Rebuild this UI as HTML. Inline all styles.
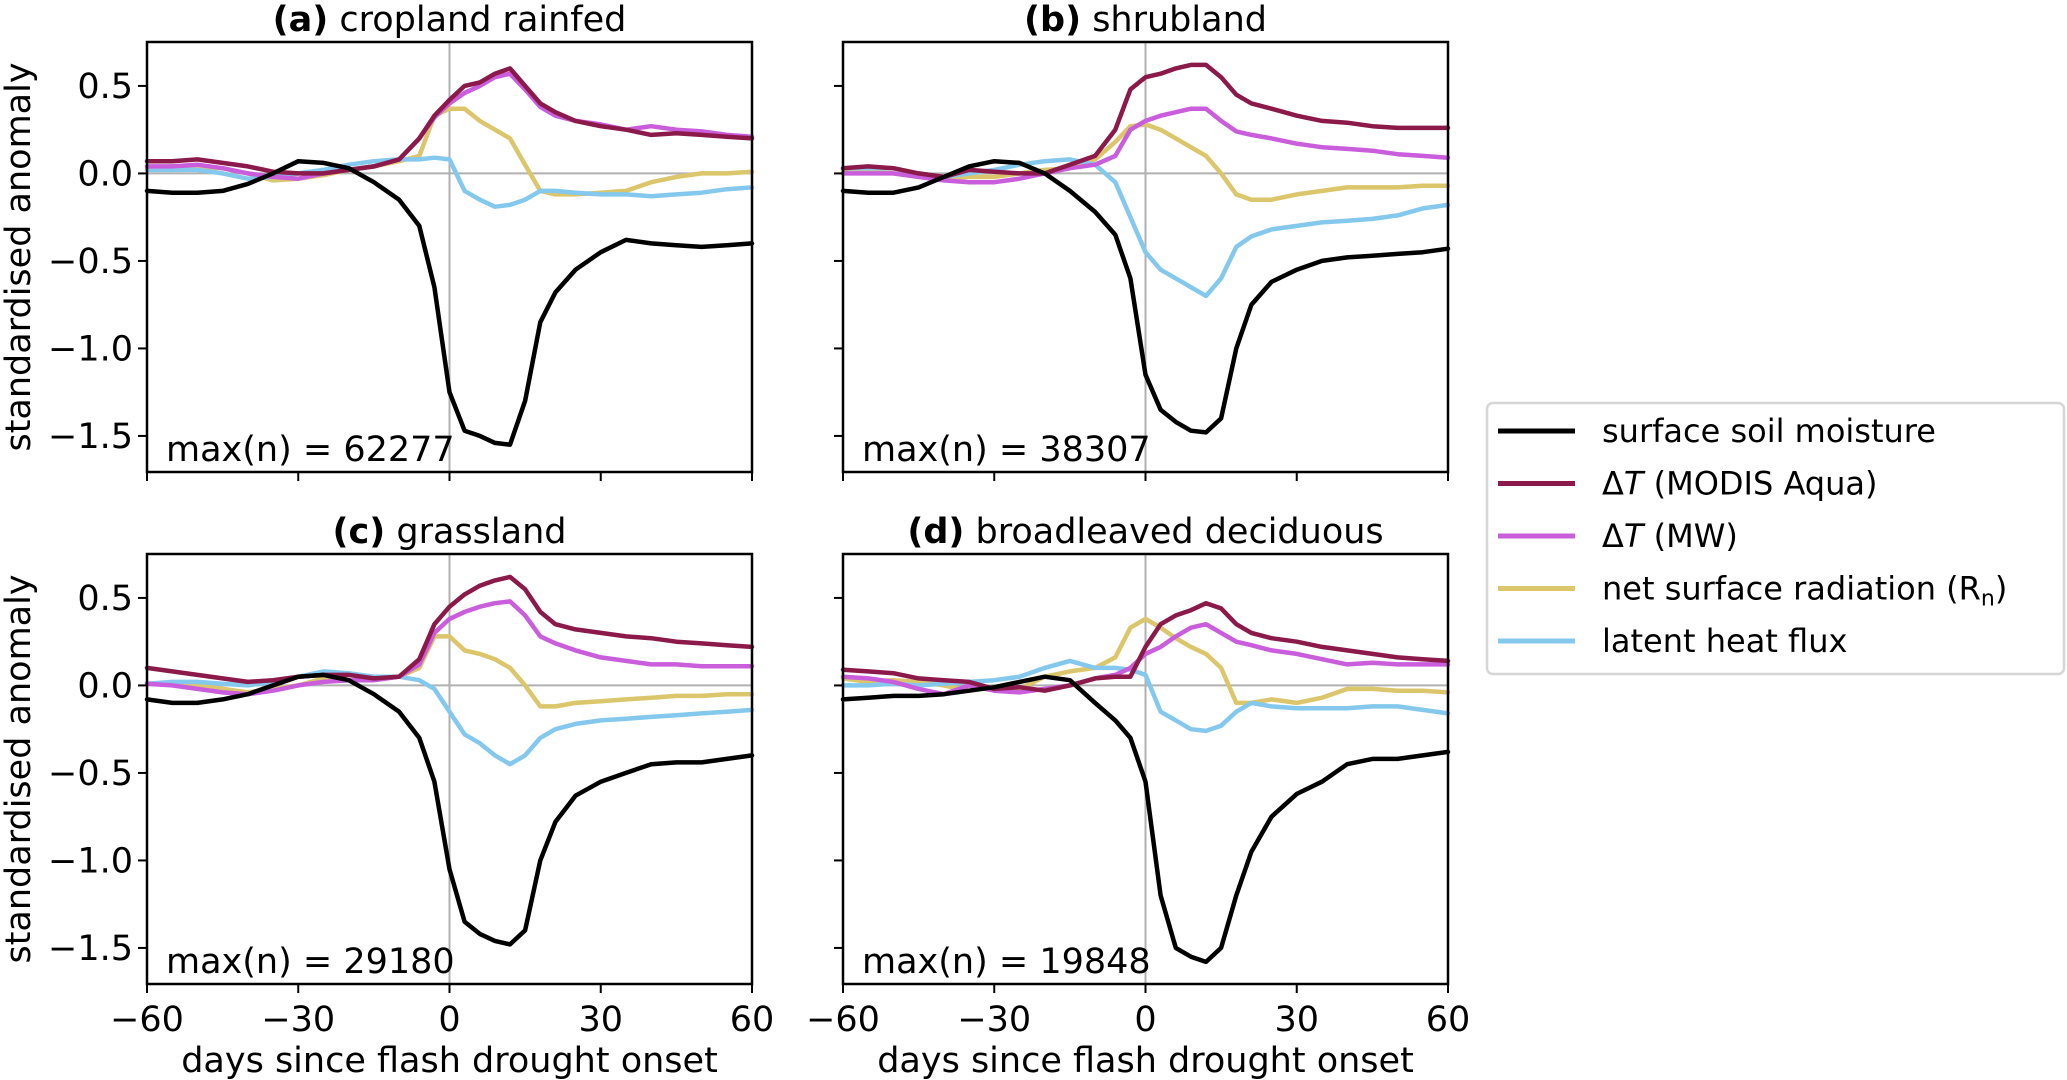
<!DOCTYPE html>
<html><head><meta charset="utf-8">
<style>
html,body{margin:0;padding:0;background:#fff;}
svg{display:block;font-family:"DejaVu Sans","Liberation Sans",sans-serif;}
</style></head>
<body>
<svg id="fig" width="2067" height="1080" viewBox="0 0 2067 1080" xmlns="http://www.w3.org/2000/svg">
<rect x="0" y="0" width="2067" height="1080" fill="#fff"/>
<g>
 <rect x="1487" y="403" width="577" height="271" rx="6" fill="#fff" stroke="#d6d6d6" stroke-width="2.5"/>
 <g><line x1="1498" x2="1575" y1="431" y2="431" stroke="#000" stroke-width="5"/><text x="1602" y="442" font-size="32">surface soil moisture</text></g>
 <g><line x1="1498" x2="1575" y1="483.5" y2="483.5" stroke="#8b1a4b" stroke-width="5"/><text x="1602" y="494.5" font-size="32">Δ<tspan font-style="italic">T</tspan> (MODIS Aqua)</text></g>
 <g><line x1="1498" x2="1575" y1="536" y2="536" stroke="#c95ddb" stroke-width="5"/><text x="1602" y="547" font-size="32">Δ<tspan font-style="italic">T</tspan> (MW)</text></g>
 <g><line x1="1498" x2="1575" y1="588.5" y2="588.5" stroke="#dcc66c" stroke-width="5"/><text x="1602" y="599.5" font-size="32">net surface radiation (R<tspan font-size="22" dy="6">n</tspan><tspan dy="-6">)</tspan></text></g>
 <g><line x1="1498" x2="1575" y1="641" y2="641" stroke="#84c9ed" stroke-width="5"/><text x="1602" y="652" font-size="32">latent heat flux</text></g>
</g>
</svg>
<script>
const days = [-60,-55,-50,-45,-40,-35,-30,-25,-20,-15,-10,-6,-3,0,3,6,9,12,15,18,21,25,30,35,40,45,50,55,60];
const xTicks = [-60,-30,0,30,60];
const xTickLabels = ['\u221260','\u221230','0','30','60'];
const yTicks = [0.5,0,-0.5,-1.0,-1.5];
const yTickLabels = ['0.5','0.0','\u22120.5','\u22121.0','\u22121.5'];
const panelTitles = [['(a)','cropland rainfed'],['(b)','shrubland'],['(c)','grassland'],['(d)','broadleaved deciduous']];
const maxN = ['62277','38307','29180','19848'];

const smA = [-0.1,-0.11,-0.11,-0.1,-0.06,0.0,0.07,0.06,0.03,-0.05,-0.15,-0.3,-0.65,-1.25,-1.47,-1.5,-1.54,-1.55,-1.3,-0.85,-0.68,-0.55,-0.45,-0.38,-0.4,-0.41,-0.42,-0.41,-0.4];
const modisA = [0.07,0.07,0.08,0.06,0.04,0.01,0.0,0.0,0.02,0.04,0.08,0.2,0.33,0.42,0.5,0.52,0.57,0.6,0.5,0.4,0.35,0.3,0.27,0.25,0.22,0.23,0.22,0.21,0.2];
const mwA = [0.04,0.04,0.05,0.03,0.0,-0.02,-0.03,0.0,0.02,0.04,0.08,0.2,0.32,0.4,0.46,0.5,0.55,0.57,0.48,0.38,0.33,0.3,0.28,0.25,0.27,0.25,0.24,0.22,0.21];
const rnA = [0.03,0.04,0.04,0.03,0.0,-0.04,-0.03,-0.01,0.02,0.04,0.07,0.1,0.33,0.37,0.37,0.3,0.25,0.2,0.05,-0.1,-0.12,-0.12,-0.11,-0.1,-0.05,-0.02,0.0,0.0,0.01];
const lhA = [0.02,0.02,0.02,0.0,-0.03,-0.02,0.0,0.02,0.05,0.07,0.08,0.08,0.09,0.08,-0.1,-0.15,-0.19,-0.18,-0.15,-0.1,-0.1,-0.11,-0.12,-0.12,-0.13,-0.12,-0.11,-0.09,-0.08];

const smB = [-0.1,-0.11,-0.11,-0.08,-0.02,0.04,0.07,0.06,0.0,-0.1,-0.22,-0.35,-0.6,-1.15,-1.35,-1.42,-1.47,-1.48,-1.4,-1.0,-0.75,-0.62,-0.55,-0.5,-0.48,-0.47,-0.46,-0.45,-0.43];
const modisB = [0.03,0.04,0.03,0.0,-0.02,0.02,0.01,0.0,0.0,0.05,0.1,0.25,0.48,0.55,0.57,0.6,0.62,0.62,0.55,0.45,0.4,0.37,0.33,0.3,0.29,0.27,0.26,0.26,0.26];
const mwB = [0.0,0.0,0.0,-0.02,-0.04,-0.05,-0.05,-0.03,0.0,0.03,0.05,0.1,0.25,0.3,0.33,0.35,0.37,0.37,0.3,0.24,0.22,0.2,0.17,0.15,0.14,0.13,0.11,0.1,0.09];
const rnB = [0.02,0.01,0.0,-0.02,-0.03,-0.02,-0.02,0.0,0.02,0.03,0.08,0.18,0.27,0.28,0.25,0.2,0.15,0.1,0.0,-0.12,-0.15,-0.15,-0.12,-0.1,-0.08,-0.08,-0.08,-0.07,-0.07];
const lhB = [0.03,0.03,0.03,0.0,-0.02,0.0,0.02,0.05,0.07,0.08,0.05,-0.05,-0.25,-0.45,-0.55,-0.6,-0.65,-0.7,-0.6,-0.42,-0.36,-0.32,-0.3,-0.28,-0.27,-0.26,-0.24,-0.2,-0.18];

const smC = [-0.08,-0.1,-0.1,-0.08,-0.05,0.0,0.05,0.06,0.03,-0.05,-0.15,-0.3,-0.55,-1.05,-1.35,-1.42,-1.46,-1.48,-1.4,-1.0,-0.78,-0.63,-0.55,-0.5,-0.45,-0.44,-0.44,-0.42,-0.4];
const modisC = [0.1,0.08,0.06,0.04,0.02,0.03,0.05,0.06,0.06,0.04,0.05,0.15,0.35,0.45,0.52,0.57,0.6,0.62,0.55,0.42,0.35,0.32,0.3,0.28,0.27,0.25,0.24,0.23,0.22];
const mwC = [0.01,0.0,-0.02,-0.04,-0.05,-0.03,0.0,0.02,0.03,0.03,0.05,0.12,0.3,0.38,0.42,0.45,0.47,0.48,0.4,0.28,0.24,0.2,0.16,0.14,0.12,0.12,0.11,0.11,0.11];
const rnC = [0.01,0.01,0.0,-0.02,-0.04,-0.02,0.0,0.04,0.06,0.05,0.05,0.1,0.28,0.28,0.2,0.18,0.15,0.1,0.0,-0.12,-0.12,-0.1,-0.09,-0.08,-0.07,-0.06,-0.06,-0.05,-0.05];
const lhC = [0.01,0.02,0.02,0.01,0.0,0.02,0.05,0.08,0.07,0.05,0.05,0.03,-0.02,-0.15,-0.28,-0.33,-0.4,-0.45,-0.4,-0.3,-0.25,-0.22,-0.2,-0.19,-0.18,-0.17,-0.16,-0.15,-0.14];

const smD = [-0.08,-0.07,-0.06,-0.06,-0.05,-0.03,-0.01,0.02,0.05,0.03,-0.1,-0.2,-0.3,-0.55,-1.2,-1.5,-1.55,-1.58,-1.5,-1.2,-0.95,-0.75,-0.62,-0.55,-0.45,-0.42,-0.42,-0.4,-0.38];
const modisD = [0.09,0.08,0.07,0.04,0.03,0.02,-0.02,-0.01,-0.03,0.0,0.04,0.05,0.05,0.22,0.35,0.4,0.43,0.47,0.44,0.35,0.3,0.27,0.25,0.22,0.2,0.18,0.16,0.15,0.14];
const mwD = [0.05,0.04,0.02,-0.02,-0.05,0.0,-0.03,-0.04,-0.02,0.0,0.04,0.06,0.1,0.18,0.22,0.28,0.33,0.35,0.3,0.25,0.23,0.2,0.18,0.15,0.12,0.13,0.12,0.12,0.12];
const rnD = [0.04,0.02,0.03,0.02,0.0,-0.03,-0.01,-0.02,0.05,0.08,0.1,0.16,0.33,0.38,0.33,0.27,0.22,0.18,0.1,-0.1,-0.1,-0.08,-0.1,-0.07,-0.02,-0.02,-0.03,-0.03,-0.04];
const lhD = [0.0,0.0,0.01,0.0,0.01,0.02,0.03,0.05,0.1,0.14,0.1,0.1,0.09,0.06,-0.15,-0.2,-0.25,-0.26,-0.23,-0.15,-0.1,-0.12,-0.13,-0.13,-0.13,-0.12,-0.12,-0.14,-0.16];

const panelSeries = [[smA,modisA,mwA,rnA,lhA],[smB,modisB,mwB,rnB,lhB],[smC,modisC,mwC,rnC,lhC],[smD,modisD,mwD,rnD,lhD]];
const seriesNames = ['soil-moisture','dt-modis','dt-mw','net-radiation','latent-heat'];
const colors = ['#000000','#8b1a4b','#c95ddb','#dcc66c','#84c9ed'];
const drawOrder = [3,4,2,1,0];

const NS = 'http://www.w3.org/2000/svg';
const svg = document.getElementById('fig');
const X0 = [147, 843], Y0 = [42, 554], W = 605, H = 430;
const XMIN = -60, XMAX = 60, YMIN = -1.706, YMAX = 0.751;
const FS = 35;
function mk(tag, attrs, parent){const e=document.createElementNS(NS,tag);for(const k in attrs)e.setAttribute(k,attrs[k]);(parent||svg).appendChild(e);return e;}

panelSeries.forEach((series, p) => {
  const left = X0[p%2], top = Y0[Math.floor(p/2)];
  const sx = v => left + (v - XMIN) / (XMAX - XMIN) * W;
  const sy = v => top + (YMAX - v) / (YMAX - YMIN) * H;
  const g = mk('g', {});
  
  
  const z1 = mk('line', {x1:left, x2:left+W, y1:sy(0), y2:sy(0), stroke:'#b0b0b0', 'stroke-width':2}, g);
  
  
  const z2 = mk('line', {x1:sx(0), x2:sx(0), y1:top, y2:top+H, stroke:'#b0b0b0', 'stroke-width':2}, g);
  
  
  drawOrder.forEach(s => {
    const pts = days.map((d,i) => sx(d).toFixed(1) + ',' + sy(series[s][i]).toFixed(1)).join(' ');
    const pl = mk('polyline', {points:pts, fill:'none', stroke:colors[s], 'stroke-width':4.5, 'stroke-linejoin':'round', 'stroke-linecap':'round'}, g);
    
    
  });
  const fr = mk('rect', {x:left, y:top, width:W, height:H, fill:'none', stroke:'#000', 'stroke-width':2.5}, g);
  
  
  xTicks.forEach((t,i) => {
    const tk = mk('line', {x1:sx(t), x2:sx(t), y1:top+H, y2:top+H+9, stroke:'#000', 'stroke-width':2}, g);
    
    
    if (p >= 2) {
      const tl = mk('text', {x:sx(t), y:top+H+47, 'font-size':FS, 'text-anchor':'middle'}, g);
      tl.textContent = xTickLabels[i];
      
      
    }
  });
  yTicks.forEach((t,i) => {
    const tk = mk('line', {x1:left-9, x2:left, y1:sy(t), y2:sy(t), stroke:'#000', 'stroke-width':2}, g);
    
    
    if (p % 2 === 0) {
      const tl = mk('text', {x:left-14, y:sy(t)+12, 'font-size':FS, 'text-anchor':'end'}, g);
      tl.textContent = yTickLabels[i];
      
      
    }
  });
  const tt = mk('text', {x:left+W/2, y:top-11, 'font-size':FS, 'text-anchor':'middle'}, g);
  
  
  const b = mk('tspan', {'font-weight':'bold'}, tt); b.textContent = panelTitles[p][0];
  const r = mk('tspan', {}, tt); r.textContent = ' ' + panelTitles[p][1];
  const an = mk('text', {x:left+19, y:top+H-11, 'font-size':FS}, g);
  an.textContent = 'max(n) = ' + maxN[p];
  
  
  if (p % 2 === 0) {
    const yl = mk('text', {x:0, y:0, 'font-size':FS, 'text-anchor':'middle', transform:'translate(30,' + (top+H/2) + ') rotate(-90)'}, g);
    yl.textContent = 'standardised anomaly';
    
    
  }
  if (p >= 2) {
    const xl = mk('text', {x:left+W/2, y:top+H+88, 'font-size':FS, 'text-anchor':'middle'}, g);
    xl.textContent = 'days since flash drought onset';
    
    
  }
});
</script>
</body></html>
